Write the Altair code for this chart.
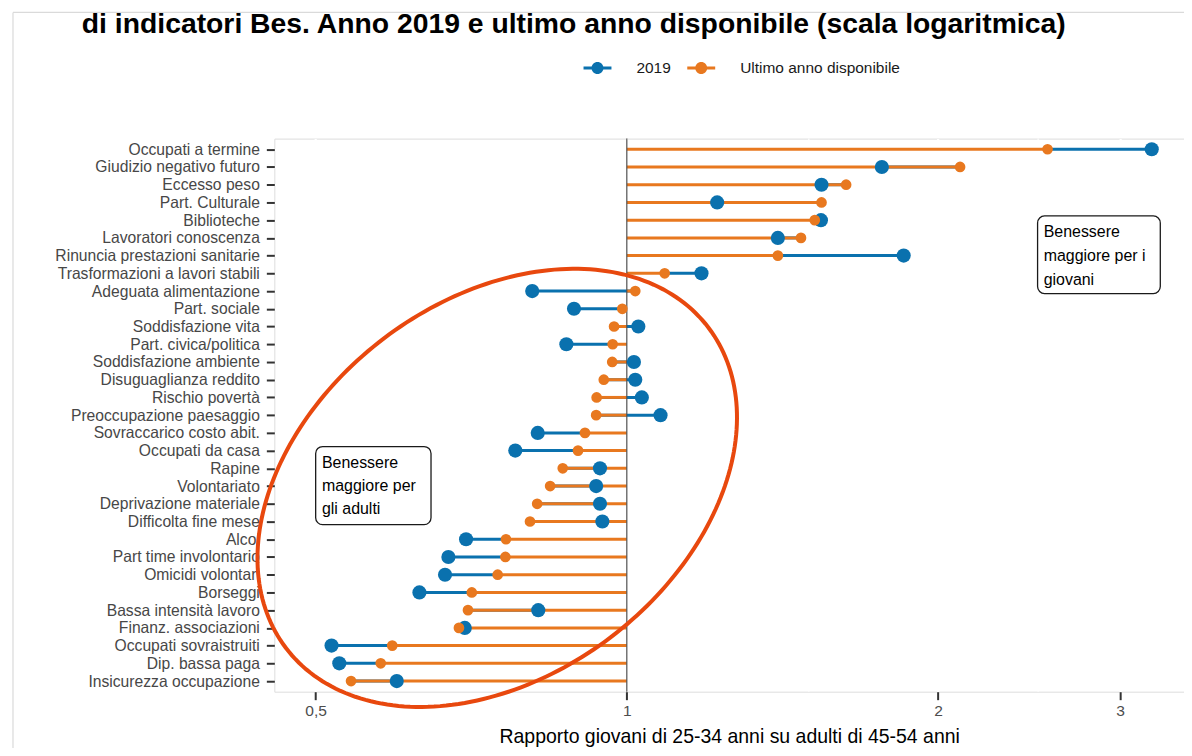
import json
import numpy as np
import pandas as pd
import altair as alt

# ---------------- data ----------------
categories = [
    "Occupati a termine", "Giudizio negativo futuro", "Eccesso peso", "Part. Culturale",
    "Biblioteche", "Lavoratori conoscenza", "Rinuncia prestazioni sanitarie",
    "Trasformazioni a lavori stabili", "Adeguata alimentazione", "Part. sociale",
    "Soddisfazione vita", "Part. civica/politica", "Soddisfazione ambiente",
    "Disuguaglianza reddito ", "Rischio povertà", "Preoccupazione paesaggio ",
    "Sovraccarico costo abit.", "Occupati da casa", "Rapine", "Volontariato",
    "Deprivazione materiale", "Difficolta fine mese", "Alcol", "Part time involontario",
    "Omicidi volontari", "Borseggi", "Bassa intensità lavoro", "Finanz. associazioni",
    "Occupati sovraistruiti", "Dip. bassa paga", "Insicurezza occupazione",
]
val_2019 = [3.22, 1.765, 1.543, 1.223, 1.541, 1.40, 1.853, 1.181, 0.810, 0.889,
            1.026, 0.874, 1.016, 1.019, 1.034, 1.078, 0.820, 0.780, 0.942, 0.934,
            0.942, 0.947, 0.699, 0.672, 0.667, 0.630, 0.821, 0.697, 0.518, 0.527, 0.599]
val_last = [2.553, 2.101, 1.630, 1.543, 1.520, 1.474, 1.400, 1.088, 1.019, 0.990,
            0.972, 0.969, 0.968, 0.950, 0.935, 0.934, 0.911, 0.897, 0.867, 0.843,
            0.819, 0.806, 0.764, 0.763, 0.750, 0.708, 0.702, 0.688, 0.593, 0.578, 0.541]
series_names = ["2019", "Ultimo anno disponibile"]
x_ticks = [0.5, 1, 2, 3]
x_tick_labels = ["0,5", "1", "2", "3"]
x_minor = [1.5, 2.5]
ref_line = [1.0]

TITLE = "di indicatori Bes. Anno 2019 e ultimo anno disponibile (scala logaritmica)"
X_TITLE = "Rapporto giovani di 25-34 anni su adulti di 45-54 anni"

# annotation boxes (data coordinates: ratio, row)
box_x = [0.5, 2.497]
box_x2 = [0.6465, 3.282]
box_y = [16.77, 3.76]
box_y2 = [21.18, 8.14]
note_lines = ["Benessere", "maggiore per", "gli adulti", "Benessere", "maggiore per i", "giovani"]
note_x = [0.507, 0.507, 0.507, 2.531, 2.531, 2.531]
note_row = [17.70, 19.02, 20.29, 4.68, 6.03, 7.38]

# hand-drawn ellipse: points traced along it (page pixels)
ell_trace_x = [280, 306.7, 366.7, 433, 500, 586.7, 628, 692.7, 729, 743.6, 740, 725,
               700, 680, 627, 513, 423.3, 370, 330, 295, 272, 262, 262]
ell_trace_y = [480, 428, 343, 303, 280, 274, 276.7, 313.3, 363.3, 420, 455, 490,
               540, 566.7, 627, 686.7, 707.3, 703, 690, 664, 628, 593, 540]

BLUE = "#0A71AE"
ORANGE = "#E8781F"
RED = "#E8480E"
FONT = "Liberation Sans"

W, H = 912, 554.5
ORIGIN_X, ORIGIN_Y = 275, 138  # plot-area origin on the page

# ---------------- tables ----------------
rows = list(range(len(categories)))
df = pd.DataFrame({"row": rows, "v2019": val_2019, "vlast": val_last,
                   "one": [ref_line[0]] * len(rows)})
pts_blue = pd.DataFrame({"row": rows, "value": val_2019, "serie": series_names[0]})
pts_orange = pd.DataFrame({"row": rows, "value": val_last, "serie": series_names[1]})
df_minor = pd.DataFrame({"v": x_minor})
df_ref = pd.DataFrame({"v": ref_line})
df_box = pd.DataFrame({"x": box_x, "x2": box_x2, "y": box_y, "y2": box_y2})
df_notes = pd.DataFrame({"t": note_lines, "x": note_x, "row": note_row})

x_scale = alt.Scale(type="log", domain=[0.456, 3.46], nice=False)
y_scale = alt.Scale(domain=[-0.6, 30.6], reverse=True, nice=False, zero=False)

x_axis = alt.Axis(
    values=x_ticks,
    labelExpr=f"{json.dumps(x_tick_labels)}[indexof({json.dumps(x_ticks)}, datum.value)]",
    grid=True, gridColor="white", gridWidth=2.2, domain=False,
    tickColor="#333333", tickWidth=2, tickSize=8,
    labelFontSize=15.6, labelColor="#4d4d4d", labelFont=FONT, labelPadding=4,
    titleFontSize=19.5, titleColor="black", titleFontWeight="normal", titleFont=FONT,
    titlePadding=8, labelOverlap=False,
)
y_axis = alt.Axis(
    values=rows,
    labelExpr=f"{json.dumps(categories, ensure_ascii=False)}[datum.value]",
    grid=True, gridColor="white", gridWidth=2.2, domain=False,
    tickColor="#333333", tickWidth=2, tickSize=8,
    labelFontSize=15.7, labelColor="#474747", labelFont=FONT, labelPadding=7,
    labelOverlap=False, labelBound=False, labelFlush=False, labelLimit=0,
)


def xenc(field):
    return alt.X(f"{field}:Q", scale=x_scale, axis=x_axis, title=X_TITLE)


def yenc(field):
    return alt.Y(f"{field}:Q", scale=y_scale, axis=y_axis, title=None)


legend_path = ("M-1,-0.107L1,-0.107L1,0.107L-1,0.107Z "
               "M0.43,0A0.43,0.43,0,1,1,-0.43,0A0.43,0.43,0,1,1,0.43,0Z")
color_enc = alt.Color(
    "serie:N",
    scale=alt.Scale(domain=series_names, range=[BLUE, ORANGE]),
    legend=alt.Legend(
        orient="none", legendX=310, legendY=-85, direction="horizontal", title=None,
        symbolType=legend_path, symbolSize=784, symbolOpacity=1, symbolStrokeWidth=0,
        labelFontSize=15.5, labelColor="#1a1a1a", labelFont=FONT, labelLimit=0,
        labelOffset=25, columnPadding=16,
    ),
)

minor = alt.Chart(df_minor).mark_rule(color="white", strokeWidth=1.2).encode(x=xenc("v"))
seg_blue = alt.Chart(df).mark_rule(color=BLUE, strokeWidth=3).encode(
    x=xenc("vlast"), x2="v2019", y=yenc("row"))
seg_orange = alt.Chart(df).mark_rule(color=ORANGE, strokeWidth=3).encode(
    x=xenc("one"), x2="vlast", y=yenc("row"))
vline = alt.Chart(df_ref).mark_rule(color="#505050", strokeWidth=1.2).encode(x=xenc("v"))
dots_blue = alt.Chart(pts_blue).mark_point(filled=True, size=201, opacity=1).encode(
    x=xenc("value"), y=yenc("row"), color=color_enc)
dots_orange = alt.Chart(pts_orange).mark_point(filled=True, size=115, opacity=1).encode(
    x=xenc("value"), y=yenc("row"), color=color_enc)
boxes = alt.Chart(df_box).mark_rect(
    fill="white", stroke="#1a1a1a", strokeWidth=1.3, cornerRadius=7
).encode(x=xenc("x"), x2="x2", y=yenc("y"), y2="y2")
notes = alt.Chart(df_notes).mark_text(
    align="left", baseline="middle", fontSize=16, font=FONT, color="black"
).encode(x=xenc("x"), y=yenc("row"), text="t:N")

one_row = pd.DataFrame({"a": [0]})
title_mark = alt.Chart(one_row).mark_text(
    align="left", baseline="alphabetic", fontSize=28.4, fontWeight="bold",
    font=FONT, color="black"
).encode(x=alt.value(-193), y=alt.value(-106), text=alt.value(TITLE))
frame_v = alt.Chart(one_row).mark_rule(color="#dadada", strokeWidth=1.2).encode(
    x=alt.value(-262), y=alt.value(-126.5), y2=alt.value(640))
frame_h = alt.Chart(one_row).mark_rule(color="#dadada", strokeWidth=1.2).encode(
    x=alt.value(-262), x2=alt.value(930), y=alt.value(-126.5))

main = alt.layer(minor, seg_blue, seg_orange, vline, dots_blue, dots_orange,
                 boxes, notes, frame_v, frame_h, title_mark)

# ellipse through the traced points (least-squares conic fit), plot-pixel space
px = np.array(ell_trace_x, float) - ORIGIN_X
py = np.array(ell_trace_y, float) - ORIGIN_Y
mx, my = px.mean(), py.mean()
sx, sy = px - mx, py - my
M = np.column_stack([sx * sx, sx * sy, sy * sy, sx, sy])
A, B, C, D, E = np.linalg.lstsq(M, np.ones(len(sx)), rcond=None)[0]
x0, y0 = np.linalg.solve([[2 * A, B], [B, 2 * C]], [-D, -E])
Fc = (D * x0 + E * y0) / 2 - 1
evals, evecs = np.linalg.eigh(np.array([[A, B / 2], [B / 2, C]]))
axes_len = np.sqrt(-Fc / evals)
tt = np.linspace(0, 2 * np.pi, 241)
pts = evecs @ np.vstack([axes_len[0] * np.cos(tt), axes_len[1] * np.sin(tt)])
ell = pd.DataFrame({"i": np.arange(len(tt)), "ex": pts[0] + x0 + mx, "ey": pts[1] + y0 + my})

ellipse = alt.Chart(ell).mark_line(color=RED, strokeWidth=4, strokeCap="round").encode(
    x=alt.X("ex:Q", scale=alt.Scale(domain=[0, W], nice=False, zero=False), axis=None),
    y=alt.Y("ey:Q", scale=alt.Scale(domain=[0, H], reverse=True, nice=False, zero=False), axis=None),
    order="i:Q",
)

chart = alt.layer(main, ellipse).resolve_scale(x="independent", y="independent").properties(
    width=W, height=H,
    autosize=alt.AutoSizeParams(type="none"),
    padding={"left": 267, "top": 130, "right": 0, "bottom": 55.5},
    background="white",
).configure_view(fill="#EBEBEB", stroke=None).configure(font=FONT)

chart.save("out.html", embed_options={"renderer": "svg", "actions": False})
